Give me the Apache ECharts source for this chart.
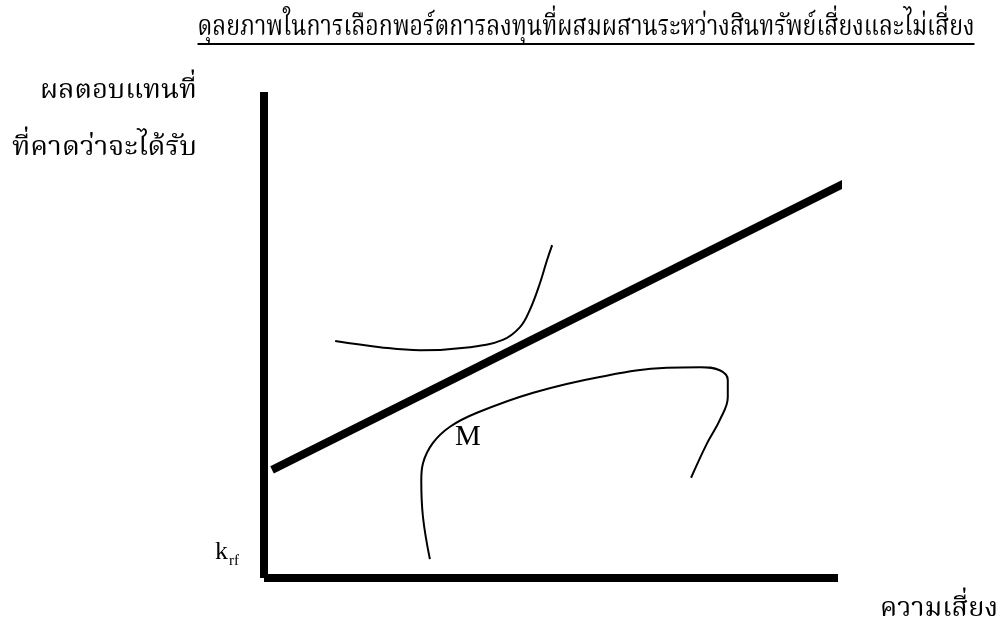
<!DOCTYPE html>
<html>
<head>
<meta charset="utf-8">
<script src="https://cdn.jsdelivr.net/npm/echarts@6/dist/echarts.min.js"></script>
<style>
  html, body { margin: 0; padding: 0; background: #fff; }
  #chart { width: 1001px; height: 622px; }
</style>
</head>
<body>
<div id="chart"></div>
<script>
// Capital market line: risk-free return to the far end of the line
const cmlRisk = [0.14, 10.16];
const cmlReturn = [1.78, 6.52];

// Investor indifference curve, tangent to the capital market line
const icRisk = [1.24, 2.02, 2.72, 3.59, 4.16, 4.46, 4.63, 4.81, 4.93, 5.02];
const icReturn = [3.90, 3.80, 3.75, 3.80, 3.92, 4.13, 4.41, 4.86, 5.23, 5.48];

// Efficient frontier of risky portfolios
const efRisk = [2.89, 2.77, 2.74, 2.77, 2.94, 3.24, 3.71, 4.69, 5.85, 7.02, 7.60, 7.94, 8.08, 8.08, 7.94, 7.72, 7.44];
const efReturn = [0.31, 1.00, 1.61, 1.89, 2.22, 2.49, 2.72, 3.05, 3.31, 3.46, 3.47, 3.42, 3.26, 2.98, 2.60, 2.22, 1.65];

const titleText = 'ดุลยภาพในการเลือกพอร์ตการลงทุนที่ผสมผสานระหว่างสินทรัพย์เสี่ยงและไม่เสี่ยง';
const yLabelLines = ['ผลตอบแทนที่', 'ที่คาดว่าจะได้รับ'];
const xLabel = 'ความเสี่ยง';

const thaiFont = "'Noto Serif Thai', 'Noto Sans Thai', 'Liberation Serif', serif";
const latinFont = "'Liberation Serif', 'DejaVu Serif', serif";

const zip = (a, b) => a.map((v, i) => [v, b[i]]);

// horizontal scale that makes a text run span the wanted width
const measureCtx = document.createElement('canvas').getContext('2d');
function fitScale(text, font, width) {
  measureCtx.font = font;
  return width / measureCtx.measureText(text).width;
}

// a Thai text element anchored at (x, y), stretched to a given width
function thaiText(text, size, x, y, align, width) {
  const font = size + 'px ' + thaiFont;
  return {
    type: 'text', x: x, y: y, scaleX: fitScale(text, font, width), scaleY: 1,
    style: { text: text, font: font, fill: '#000', align: align, verticalAlign: 'top' }
  };
}

const titleFont = 28;
const titleCenter = 586;
const titleWidth = 777;

const chart = echarts.init(document.getElementById('chart'), null, { renderer: 'canvas' });

chart.setOption({
  backgroundColor: '#ffffff',
  animation: false,
  grid: { left: 264, top: 92, right: 163, bottom: 44, containLabel: false },
  xAxis: {
    type: 'value', min: 0, max: 10,
    axisLine: { show: true, onZero: false, lineStyle: { color: '#000', width: 8, cap: 'butt' } },
    axisTick: { show: false }, axisLabel: { show: false }, splitLine: { show: false }
  },
  yAxis: {
    type: 'value', min: 0, max: 8,
    axisLine: { show: true, onZero: false, lineStyle: { color: '#000', width: 8, cap: 'butt' } },
    axisTick: { show: false }, axisLabel: { show: false }, splitLine: { show: false }
  },
  series: [
    {
      name: 'cml', type: 'line', data: zip(cmlRisk, cmlReturn),
      showSymbol: false, clip: false,
      lineStyle: { color: '#000', width: 8, cap: 'butt' }
    },
    {
      name: 'indifference', type: 'line', data: zip(icRisk, icReturn),
      showSymbol: false, smooth: 0.4, clip: false,
      lineStyle: { color: '#000', width: 2 }
    },
    {
      name: 'frontier', type: 'line', data: zip(efRisk, efReturn),
      showSymbol: false, smooth: 0.4, clip: false,
      lineStyle: { color: '#000', width: 2 }
    }
  ],
  graphic: [
    thaiText(titleText, titleFont, titleCenter, 16, 'center', titleWidth),
    {
      type: 'rect',
      shape: { x: titleCenter - titleWidth / 2, y: 43, width: titleWidth, height: 2 },
      style: { fill: '#000' }
    },
    thaiText(yLabelLines[0], 27, 197, 80, 'right', 157),
    thaiText(yLabelLines[1], 27, 197, 137, 'right', 185),
    thaiText(xLabel, 27, 998, 598, 'right', 118),
    {
      type: 'text', x: 455, y: 423,
      style: { text: 'M', font: '29px ' + latinFont, fill: '#000', verticalAlign: 'top' }
    },
    {
      type: 'text', x: 215, y: 539,
      style: {
        text: '{k|k}{s|rf}',
        verticalAlign: 'top',
        rich: {
          k: { font: '26px ' + latinFont, fill: '#000' },
          s: { font: '15px ' + latinFont, fill: '#000', verticalAlign: 'bottom', padding: [0, 0, -4, 1] }
        }
      }
    }
  ]
});
</script>
</body>
</html>
